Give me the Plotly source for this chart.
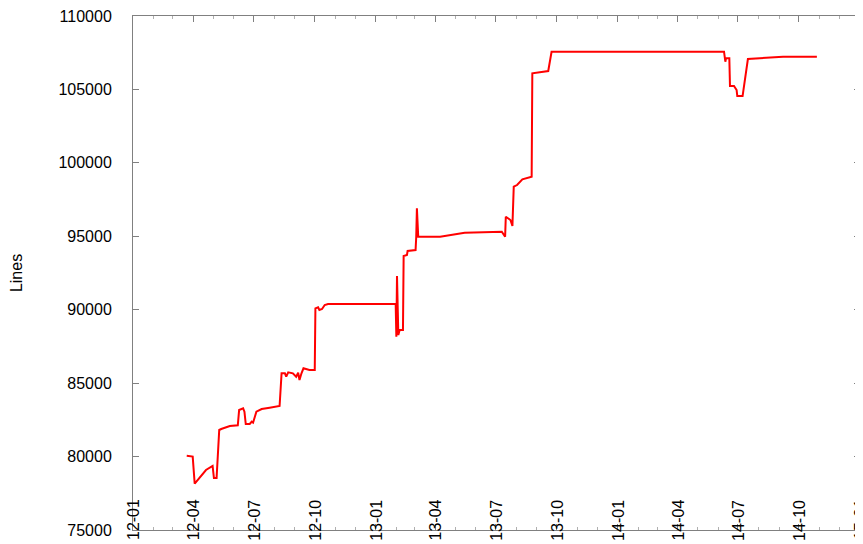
import plotly.graph_objects as go

# ---- data ----
dates = [
    "2012-03-22", "2012-03-31", "2012-04-03", "2012-04-13", "2012-04-20", "2012-04-30",
    "2012-05-02", "2012-05-06", "2012-05-10", "2012-05-13", "2012-05-26", "2012-06-07",
    "2012-06-09", "2012-06-15", "2012-06-17", "2012-06-19", "2012-06-25", "2012-06-28",
    "2012-06-30", "2012-07-05", "2012-07-13", "2012-07-25", "2012-08-09", "2012-08-12",
    "2012-08-17", "2012-08-19", "2012-08-22", "2012-08-29", "2012-09-03", "2012-09-06",
    "2012-09-08", "2012-09-11", "2012-09-14", "2012-09-23", "2012-10-01", "2012-10-02",
    "2012-10-06", "2012-10-08", "2012-10-12", "2012-10-16", "2012-10-21", "2013-01-31",
    "2013-02-01", "2013-02-02", "2013-02-04", "2013-02-06", "2013-02-11", "2013-02-12",
    "2013-02-17", "2013-02-18", "2013-03-02", "2013-03-03", "2013-03-04", "2013-03-06",
    "2013-04-08", "2013-05-15", "2013-06-22", "2013-07-10", "2013-07-15", "2013-07-16",
    "2013-07-23", "2013-07-26", "2013-07-28", "2013-08-02", "2013-08-10", "2013-08-24",
    "2013-08-25", "2013-09-03", "2013-09-18", "2013-09-23", "2014-06-10", "2014-06-12",
    "2014-06-13", "2014-06-18", "2014-06-19", "2014-06-25", "2014-06-29", "2014-06-30",
    "2014-07-08", "2014-07-16", "2014-07-31", "2014-09-07", "2014-10-28",
]
lines = [
    80050, 80000, 78150, 78745, 79085, 79358,
    78541, 78541, 81809, 81877, 82081, 82129,
    83171, 83286, 83055, 82218, 82218, 82374,
    82306, 83055, 83239, 83327, 83443, 85670,
    85670, 85438, 85738, 85670, 85438, 85710,
    85214, 85670, 86010, 85894, 85894, 90095,
    90164, 89980, 90048, 90320, 90388, 90388,
    88162, 92295, 88278, 88618, 88618, 93657,
    93725, 93997, 94065, 94971, 96905, 94971,
    94971, 95243, 95311, 95311, 94971, 96333,
    96108, 95700, 98375, 98490, 98879, 99056,
    106097, 106165, 106253, 107568, 107568, 106887,
    107119, 107119, 105232, 105232, 104960, 104551,
    104551, 107070, 107119, 107228, 107228,
]

tick_dates = ["2012-01-01", "2012-04-01", "2012-07-01", "2012-10-01",
              "2013-01-01", "2013-04-01", "2013-07-01", "2013-10-01",
              "2014-01-01", "2014-04-01", "2014-07-01", "2014-10-01", "2015-01-01"]
tick_labels = ["12-01", "12-04", "12-07", "12-10", "13-01", "13-04", "13-07",
               "13-10", "14-01", "14-04", "14-07", "14-10", "15-01"]
y_ticks = [75000, 80000, 85000, 90000, 95000, 100000, 105000, 110000]

# the page body adds an 8 px offset, so the figure is sized/margined to compensate
W, H = 855, 536
L, R, T, B = 125, 3, 8, 14
plot_h = H - T - B
FONT = "Liberation Sans, Arial, Helvetica, sans-serif"
FS = 16
AXIS_COL = "#808080"

fig = go.Figure()
fig.add_trace(go.Scatter(
    x=dates, y=lines, mode="lines",
    line=dict(color="#ff0000", width=2),
    showlegend=False, hoverinfo="x+y",
))

# x tick labels drawn rotated, straddling the bottom border like the reference
label_center_px = 512  # in figure pixels
for d, t in zip(tick_dates, tick_labels):
    fig.add_annotation(
        x=d, xref="x", y=(H - B - label_center_px) / plot_h, yref="paper",
        text=t, textangle=-90, showarrow=False,
        xanchor="center", yanchor="middle",
        font=dict(family=FONT, size=FS, color="black"),
    )

fig.update_layout(
    width=W, height=H,
    margin=dict(l=L, r=R, t=T, b=B, pad=0),
    paper_bgcolor="white", plot_bgcolor="white",
    font=dict(family=FONT, size=FS, color="black"),
    xaxis=dict(
        type="date", range=["2012-01-01", "2015-01-01"],
        tickvals=tick_dates, ticktext=tick_labels, showticklabels=False,
        ticks="inside", ticklen=6, tickcolor=AXIS_COL, tickwidth=1,
        minor=dict(ticks="inside", ticklen=3, dtick="M1", tick0="2012-01-01",
                   tickcolor="#b0b0b0", showgrid=False),
        showline=True, linecolor=AXIS_COL, linewidth=1, mirror="ticks",
        showgrid=False, zeroline=False, fixedrange=True,
    ),
    yaxis=dict(
        range=[75000, 110000], tickvals=y_ticks, tickformat="d",
        ticks="inside", ticklen=6, tickcolor=AXIS_COL,
        showline=True, linecolor=AXIS_COL, linewidth=1, mirror="ticks",
        showgrid=False, zeroline=False,
        ticklabelstandoff=17, ticklabeloverflow="allow",
        tickfont=dict(family=FONT, size=FS, color="black"),
        title=dict(text="Lines", standoff=33,
                   font=dict(family=FONT, size=FS, color="black")),
        automargin=False,
    ),
)

fig.write_html("out.html")
